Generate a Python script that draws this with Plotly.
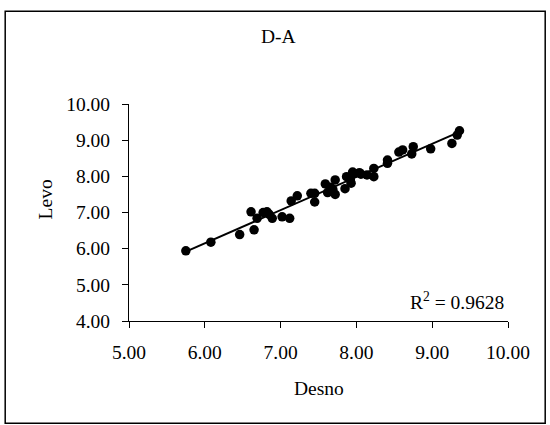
import numpy as np
import plotly.graph_objects as go

desno = [5.75, 6.08, 6.46, 6.61, 6.65, 6.69, 6.77, 6.82, 6.89, 6.85,
         7.02, 7.12, 7.14, 7.22, 7.40, 7.45, 7.45, 7.59, 7.62, 7.72,
         7.72, 7.85, 7.87, 7.92, 7.93, 7.97, 8.04, 8.14, 8.23, 8.23,
         8.41, 8.41, 8.56, 8.61, 8.73, 8.75, 8.98, 9.26, 9.33, 9.36,
         7.66, 7.95, 8.06, 7.69]
levo = [5.94, 6.18, 6.39, 7.02, 6.52, 6.84, 7.00, 7.02, 6.84, 6.95,
        6.88, 6.84, 7.32, 7.46, 7.53, 7.53, 7.29, 7.79, 7.55, 7.90,
        7.50, 7.66, 7.99, 7.90, 7.81, 8.08, 8.10, 8.04, 7.99, 8.22,
        8.45, 8.36, 8.67, 8.73, 8.62, 8.82, 8.76, 8.91, 9.14, 9.26,
        7.70, 8.12, 8.06, 7.63]
x_ticks = [5.0, 6.0, 7.0, 8.0, 9.0, 10.0]
y_ticks = [4.0, 5.0, 6.0, 7.0, 8.0, 9.0, 10.0]
title_text = "D-A"
x_title = "Desno"
y_title = "Levo"
r2_text = "R<sup>2</sup> = 0.9628"

slope, intercept = np.polyfit(desno, levo, 1)
xl = [min(desno), max(desno)]
yl = [slope * v + intercept for v in xl]

FONT = "Liberation Serif, Times New Roman, serif"
FS = 19.5

fig = go.Figure()
fig.add_trace(go.Scatter(x=xl, y=yl, mode="lines",
                         line=dict(color="black", width=2), hoverinfo="skip"))
fig.add_trace(go.Scatter(x=desno, y=levo, mode="markers",
                         marker=dict(color="black", size=9.5, line=dict(width=0))))

W, H = 550, 425
L, R, T, B = 129.3, 508.3, 104.3, 321.3

def px(xp):
    return (xp - L) / (R - L)

def py(yp):
    return (B - yp) / (B - T)

fig.update_layout(
    width=W, height=H,
    margin=dict(l=L, r=W - R, t=T, b=H - B, pad=0),
    paper_bgcolor="white", plot_bgcolor="white",
    showlegend=False,
    font=dict(family=FONT, size=FS, color="black"),
    xaxis=dict(range=[5, 10], tickvals=x_ticks, tickformat=".2f",
               showgrid=False, zeroline=False, showline=True, linecolor="black",
               linewidth=1, ticks="outside", ticklen=6, tickcolor="black",
               tickwidth=1, ticklabelstandoff=8, fixedrange=True),
    yaxis=dict(range=[4, 10], tickvals=y_ticks, tickformat=".2f",
               showgrid=False, zeroline=False, showline=True, linecolor="black",
               linewidth=1, ticks="outside", ticklen=6, tickcolor="black",
               tickwidth=1, ticklabelstandoff=8, fixedrange=True),
    annotations=[
        dict(text=title_text, xref="paper", yref="paper", x=px(279), y=py(37),
             xanchor="center", yanchor="middle", showarrow=False,
             font=dict(family=FONT, size=FS)),
        dict(text=x_title, xref="paper", yref="paper", x=px(319), y=py(389),
             xanchor="center", yanchor="middle", showarrow=False,
             font=dict(family=FONT, size=FS)),
        dict(text=y_title, xref="paper", yref="paper", x=px(46), y=py(200),
             xanchor="center", yanchor="middle", showarrow=False, textangle=-90,
             font=dict(family=FONT, size=FS)),
        dict(text=r2_text, xref="paper", yref="paper", x=px(506), y=py(301),
             xanchor="right", yanchor="middle", showarrow=False,
             font=dict(family=FONT, size=FS)),
    ],
    shapes=[
        dict(type="rect", xref="paper", yref="paper",
             x0=px(5.5), x1=px(545.5), y0=py(423.5), y1=py(11.5),
             line=dict(color="black", width=1.5), layer="below"),
    ],
)

fig.write_html("out.html")
